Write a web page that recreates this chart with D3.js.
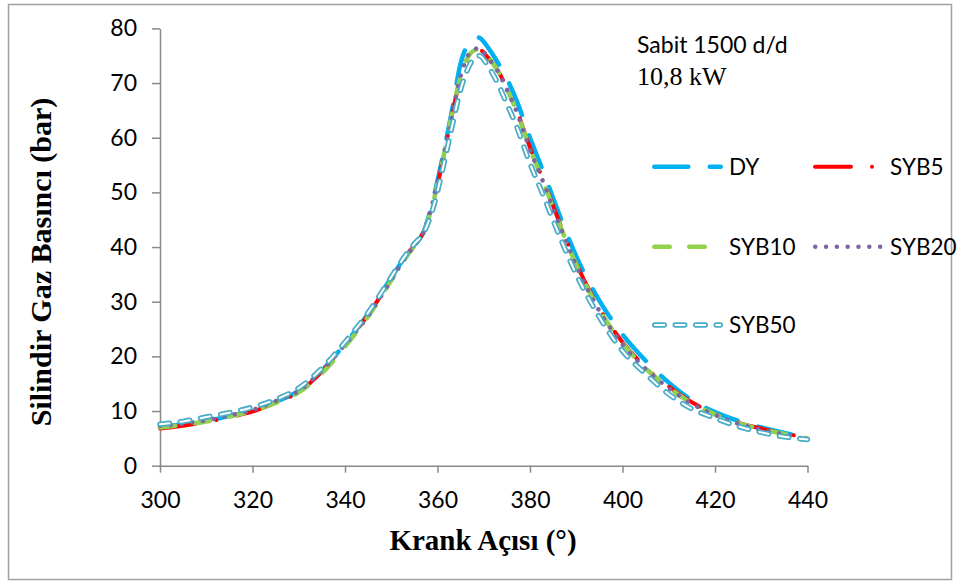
<!DOCTYPE html>
<html>
<head>
<meta charset="utf-8">
<script src="https://cdn.jsdelivr.net/npm/d3@7"></script>
<style>
  html, body { margin: 0; padding: 0; background: #fff; }
  svg { display: block; }
</style>
</head>
<body>
<svg id="chart" width="960" height="585"></svg>
<script>
// Crank angle (°) at which the cylinder pressure was sampled
const crankAngles = [300, 305, 310, 315, 320, 325, 330, 335, 340, 345, 350, 353, 355, 357, 359, 361, 363, 365, 367, 368, 369, 371, 373, 375, 377, 380, 383, 386, 390, 395, 400, 405, 410, 415, 420, 425, 430, 435, 440];

// Cylinder gas pressure (bar) for each fuel
const dyValues    = [7.1, 7.6, 8.2, 9.1, 10.1, 11.7, 13.7, 17.4, 22.3, 27.8, 34.4, 38.2, 40.3, 42.8, 48.5, 56.0, 64.4, 73.6, 77.6, 78.4, 78.3, 76.4, 73.8, 70.8, 67.0, 60.0, 53.5, 46.7, 38.3, 30.2, 24.0, 19.2, 15.2, 12.0, 9.8, 8.2, 7.0, 6.0, 5.2];
const syb5Values  = [6.8, 7.3, 8.0, 8.9, 9.9, 11.5, 13.5, 17.2, 22.2, 27.6, 34.2, 38.2, 40.4, 42.8, 48.0, 55.2, 63.6, 71.0, 75.2, 75.9, 76.1, 74.6, 72.4, 69.0, 65.3, 58.2, 52.0, 45.3, 37.0, 28.8, 22.6, 18.0, 14.5, 11.6, 9.5, 7.9, 6.8, 5.9, 5.1];
const syb10Values = [7.0, 7.5, 8.1, 9.0, 10.0, 11.5, 13.4, 16.9, 21.8, 27.3, 33.9, 37.9, 40.2, 42.6, 48.0, 55.3, 63.8, 71.2, 75.3, 76.0, 76.2, 74.7, 72.3, 68.9, 65.1, 58.0, 51.7, 45.0, 36.8, 28.5, 22.4, 17.8, 14.3, 11.4, 9.4, 7.8, 6.7, 5.8, 5.0];
const syb20Values = [7.3, 7.7, 8.3, 9.2, 10.2, 11.8, 13.7, 17.4, 22.2, 27.4, 34.0, 38.0, 40.3, 42.7, 48.3, 55.5, 63.5, 71.3, 75.6, 76.2, 76.4, 74.5, 72.2, 68.8, 65.0, 57.8, 51.6, 44.8, 36.6, 28.3, 22.2, 17.7, 14.2, 11.3, 9.3, 7.7, 6.6, 5.7, 4.8];
const syb50Values = [7.6, 8.1, 8.9, 9.7, 10.7, 12.1, 14.2, 17.8, 22.6, 28.0, 34.5, 38.4, 40.6, 42.6, 47.0, 53.8, 61.5, 68.8, 73.4, 74.6, 75.0, 73.0, 70.0, 66.2, 62.3, 55.3, 49.2, 42.8, 35.0, 27.2, 21.0, 16.8, 13.1, 10.4, 8.7, 7.2, 6.1, 5.3, 4.8];

const seriesNames = ["DY", "SYB5", "SYB10", "SYB20", "SYB50"];
const seriesValues = [dyValues, syb5Values, syb10Values, syb20Values, syb50Values];

// Axis ticks
const xTicks = [300, 320, 340, 360, 380, 400, 420, 440];
const yTicks = [0, 10, 20, 30, 40, 50, 60, 70, 80];

// Line styling per series (Office palette, dash patterns with round caps)
const styles = {
  DY:    { color: "#00B0F0", width: 4.5, dash: "34 21.5" },
  SYB5:  { color: "#FF0000", width: 4,   dash: "36 21 0.01 21" },
  SYB10: { color: "#92D050", width: 4.5, dash: "15.5 19.5" },
  SYB20: { color: "#8064A2", width: 4.5, dash: "0.01 10.8" },
  SYB50: { color: "#4BACC6", width: 5.5, dash: "9.5 11", hollow: true }
};

const svg = d3.select("#chart");

// Outer chart frame
svg.append("rect")
  .attr("x", 8.5).attr("y", 4.5)
  .attr("width", 943).attr("height", 575)
  .attr("fill", "#fff")
  .attr("stroke", "#a0a0a0")
  .attr("stroke-width", 1.5);

const x = d3.scaleLinear().domain([300, 440]).range([160, 807.5]);
const y = d3.scaleLinear().domain([0, 80]).range([465.7, 28.4]);

const sansFont = "Lato, 'Open Sans', sans-serif";
const serifFont = "'Liberation Serif', 'DejaVu Serif', serif";
const axisColor = "#898989";

// Y axis
const yAxis = svg.append("g")
  .attr("transform", `translate(${x(300)},0)`)
  .call(d3.axisLeft(y).tickValues(yTicks).tickSize(8).tickSizeOuter(0).tickPadding(15).tickFormat(d3.format("d")));

// X axis
const xAxis = svg.append("g")
  .attr("transform", `translate(0,${y(0)})`)
  .call(d3.axisBottom(x).tickValues(xTicks).tickSize(7).tickSizeOuter(0).tickPadding(19).tickFormat(d3.format("d")));

[yAxis, xAxis].forEach(g => {
  g.select(".domain").attr("stroke", axisColor).attr("stroke-width", 1.5);
  g.selectAll(".tick line").attr("stroke", axisColor).attr("stroke-width", 1.5);
  g.selectAll(".tick text")
    .attr("fill", "#000")
    .style("font-family", sansFont)
    .style("font-size", "23px");
});

// Axis titles
svg.append("text")
  .attr("x", 483).attr("y", 550)
  .attr("text-anchor", "middle")
  .style("font-family", serifFont)
  .style("font-weight", "bold")
  .style("font-size", "29px")
  .text("Krank Açısı (°)");

svg.append("text")
  .attr("transform", "translate(51,262) rotate(-90)")
  .attr("text-anchor", "middle")
  .style("font-family", serifFont)
  .style("font-weight", "bold")
  .style("font-size", "30px")
  .text("Silindir Gaz Basıncı (bar)");

// Operating condition note
svg.append("text")
  .attr("x", 637).attr("y", 53)
  .style("font-family", sansFont)
  .style("font-size", "23px")
  .text("Sabit 1500 d/d");

svg.append("text")
  .attr("x", 637).attr("y", 85)
  .style("font-family", serifFont)
  .style("font-size", "26px")
  .text("10,8 kW");

// Draws a styled stroke (solid dashes, or hollow outlined dashes) along a path
function drawStyled(g, pathD, st) {
  g.append("path")
    .attr("d", pathD)
    .attr("fill", "none")
    .attr("stroke", st.color)
    .attr("stroke-width", st.width)
    .attr("stroke-dasharray", st.dash)
    .attr("stroke-linecap", "round")
    .attr("stroke-linejoin", "round");
  if (st.hollow) {
    g.append("path")
      .attr("d", pathD)
      .attr("fill", "none")
      .attr("stroke", "#fff")
      .attr("stroke-width", 2)
      .attr("stroke-dasharray", st.dash)
      .attr("stroke-linecap", "round")
      .attr("stroke-linejoin", "round");
  }
}

// Pressure curves
const line = d3.line()
  .x(d => x(d[0]))
  .y(d => y(d[1]))
  .curve(d3.curveMonotoneX);

const plot = svg.append("g");
seriesNames.forEach((name, i) => {
  const pts = crankAngles.map((a, k) => [a, seriesValues[i][k]]);
  drawStyled(plot.append("g"), line(pts), styles[name]);
});

// Legend
const legendPos = {
  DY:    { x: 652, y: 166.7 },
  SYB5:  { x: 813, y: 166.7 },
  SYB10: { x: 652, y: 246.7 },
  SYB20: { x: 813, y: 246.7 },
  SYB50: { x: 652, y: 325 }
};
const legend = svg.append("g");
seriesNames.forEach(name => {
  const p = legendPos[name], st = styles[name];
  const half = st.width / 2;
  const d = `M${p.x + half},${p.y}H${p.x + 71 - half}`;
  drawStyled(legend.append("g"), d, st);
  legend.append("text")
    .attr("x", p.x + 77).attr("y", p.y + 8.3)
    .style("font-family", sansFont)
    .style("font-size", "22.5px")
    .text(name);
});
</script>
</body>
</html>
